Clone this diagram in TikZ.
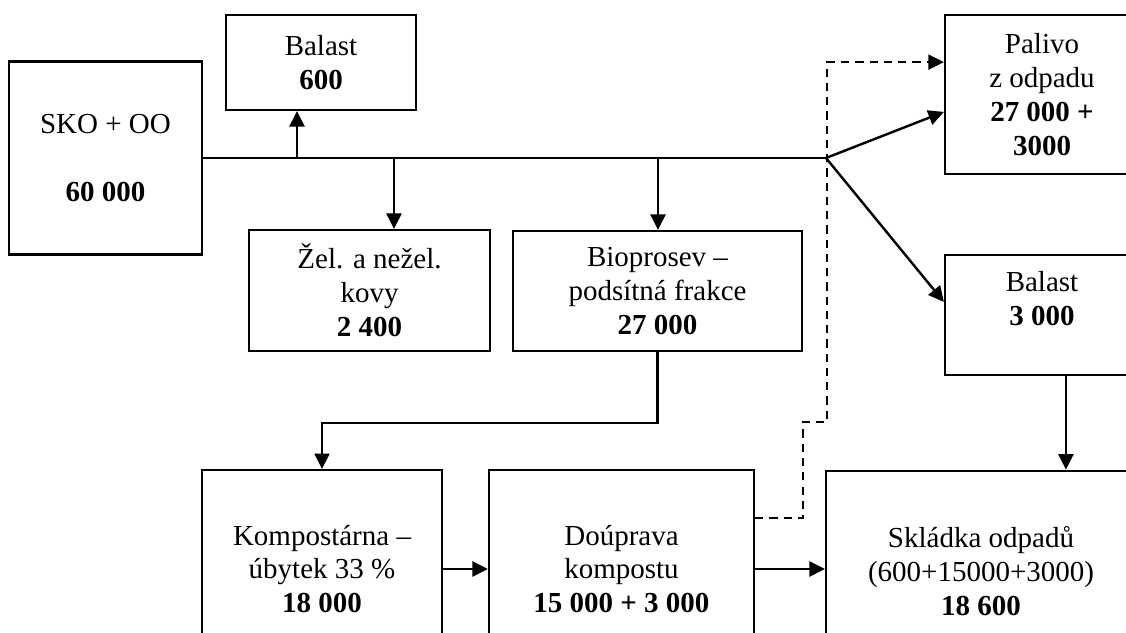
\documentclass[tikz,border=0pt]{standalone}
\usepackage{fontspec}
\setmainfont{Liberation Serif}
\usetikzlibrary{arrows.meta}

\begin{document}
\begin{tikzpicture}[x=0.4138pt, y=-0.4138pt,
    box/.style={draw, line width=0.9pt, align=center, inner sep=2pt,
      font=\fontsize{12}{14}\selectfont},
    flow/.style={line width=1pt, -{Triangle[length=6.4pt, width=6.2pt]}},
    plain/.style={line width=0.9pt},
    dashflow/.style={line width=0.75pt, dash pattern=on 3.4pt off 2.5pt,
      -{Triangle[length=6.4pt, width=6.2pt]}}]
    \useasboundingbox (0,0) rectangle (1126,632);
    \clip (0,0) rectangle (1126,632);
    \fill[white] (0,0) rectangle (1126,632);

    % boxes
    \node[box, minimum width=79.9pt, minimum height=79.9pt] (sko) at (105.5,158) {SKO + OO\\[14pt]\textbf{60 000}};
    \node[box, minimum width=78.6pt, minimum height=39.3pt] (bal1) at (321,62.5) {Balast\\\textbf{600}};
    \node[box, minimum width=99.7pt, minimum height=50.1pt] (zel) at (369.5,290.5) {Žel. a nežel.\\kovy\\\textbf{2 400}};
    \node[box, minimum width=119.6pt, minimum height=49.7pt] (bio) at (657.5,291) {Bioprosev –\\podsítná frakce\\\textbf{27 000}};
    \node[box, minimum width=80.3pt, minimum height=65.8pt] (pal) at (1042,94.5) {Palivo\\z odpadu\\\textbf{27 000 +}\\\textbf{3000}};
    \node[box, minimum width=80.3pt, minimum height=49.7pt] (bal3) at (1042,315) {Balast\\\textbf{3 000}\\\mbox{}};
    \node[box, minimum width=99.3pt, minimum height=81.9pt] (komp) at (322,569) {Kompostárna –\\úbytek 33 \%\\\textbf{18 000}};
    \node[box, minimum width=109.7pt, minimum height=81.9pt] (dou) at (621.5,569) {Doúprava\\kompostu\\\textbf{15 000 + 3 000}};
    \node[box, minimum width=128.3pt, minimum height=83pt] (skl) at (981,571) {Skládka odpadů\\(600+15000+3000)\\\textbf{18 600}};

    % main line
    \coordinate (split) at (826,158);
    \coordinate (tapA) at (297,158);
    \coordinate (tapB) at (394,158);
    \coordinate (tapC) at (658,158);
    \draw[plain] (sko.east) -- (split);
    \draw[flow] (tapA) -- (tapA |- bal1.south);
    \draw[flow] (tapB) -- (tapB |- zel.north);
    \draw[flow] (tapC) -- (tapC |- bio.north);

    \draw[flow] (split) -- ([yshift=-7.2pt]pal.west);
    \draw[flow] (split) -- ([yshift=5.4pt]bal3.west);
    \draw[flow] ([xshift=9.9pt]bal3.south) -- ([xshift=9.9pt]bal3.south |- skl.north);

    \draw[flow] (bio.south) -- ++(0,71) -| (komp.north);
    \draw[flow] (komp.east) -- (dou.west);
    \draw[flow] (dou.east) -- (dou.east -| skl.west);

    % dashed return to fuel
    \draw[dashflow] ([yshift=21.1pt]dou.east) -- ++(48,0) -- ++(0,-96) -- ++(24,0) |- ([yshift=13.4pt]pal.west);

\end{tikzpicture}
\end{document}
